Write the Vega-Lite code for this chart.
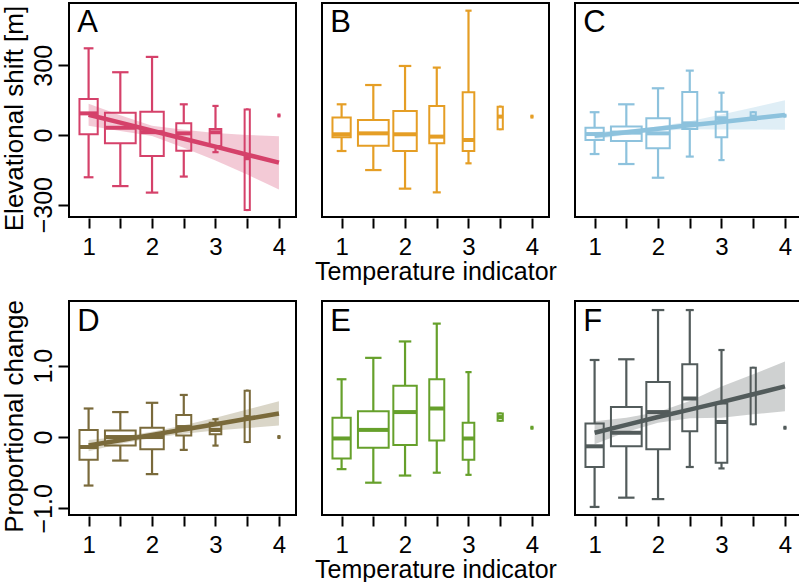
{
"$schema": "https://vega.github.io/schema/vega-lite/v6.json",
"background": "white",
"padding": {"left": 0, "top": 2, "right": 0, "bottom": 0},
"config": {
  "font": "Liberation Sans",
  "view": {"stroke": "black", "strokeWidth": 2},
  "axis": {"grid": false, "domain": false, "tickColor": "black", "tickWidth": 2, "tickSize": 10, "labelFontSize": 25, "labelColor": "black", "titleFontSize": 26, "titleFontWeight": "normal", "titleColor": "black", "labelFont": "Liberation Sans", "titleFont": "Liberation Sans"},
  "axisX": {"labelFontSize": 24},
  "header": {"titleFontSize": 25, "titleFontWeight": "normal", "titleFont": "Liberation Sans", "titleColor": "black"}
},
"datasets": {"d": [
{"p":"A","k":"box","x":1,"n":37,"lo":-182,"q1":3,"med":93,"q3":155,"hi":373},
{"p":"A","k":"box","x":1.5,"n":105,"lo":-220,"q1":-36,"med":31,"q3":96,"hi":270},
{"p":"A","k":"box","x":2,"n":61,"lo":-248,"q1":-90,"med":12,"q3":100,"hi":336},
{"p":"A","k":"box","x":2.5,"n":25,"lo":-179,"q1":-68,"med":7,"q3":50,"hi":132},
{"p":"A","k":"box","x":3,"n":15,"lo":-74,"q1":-47,"med":12,"q3":26,"hi":125},
{"p":"A","k":"box","x":3.5,"n":3,"lo":-323,"q1":-323,"med":-100,"q3":110,"hi":110},
{"p":"A","k":"box","x":4,"n":1,"lo":84,"q1":84,"med":84,"q3":84,"hi":84},
{"p":"B","k":"box","x":1,"n":37,"lo":-69,"q1":-10,"med":3,"q3":75,"hi":132},
{"p":"B","k":"box","x":1.5,"n":105,"lo":-151,"q1":-46,"med":7,"q3":65,"hi":215},
{"p":"B","k":"box","x":2,"n":61,"lo":-231,"q1":-69,"med":3,"q3":103,"hi":297},
{"p":"B","k":"box","x":2.5,"n":25,"lo":-247,"q1":-36,"med":-7,"q3":125,"hi":290},
{"p":"B","k":"box","x":3,"n":15,"lo":-122,"q1":-69,"med":-22,"q3":184,"hi":535},
{"p":"B","k":"box","x":3.5,"n":3,"lo":25,"q1":25,"med":79,"q3":122,"hi":122},
{"p":"B","k":"box","x":4,"n":1,"lo":79,"q1":79,"med":79,"q3":79,"hi":79},
{"p":"C","k":"box","x":1,"n":37,"lo":-82,"q1":-22,"med":4,"q3":31,"hi":98},
{"p":"C","k":"box","x":1.5,"n":105,"lo":-125,"q1":-26,"med":10,"q3":36,"hi":132},
{"p":"C","k":"box","x":2,"n":61,"lo":-184,"q1":-57,"med":7,"q3":72,"hi":201},
{"p":"C","k":"box","x":2.5,"n":25,"lo":-93,"q1":26,"med":50,"q3":185,"hi":277},
{"p":"C","k":"box","x":3,"n":15,"lo":-108,"q1":-10,"med":72,"q3":100,"hi":182},
{"p":"C","k":"box","x":3.5,"n":3,"lo":65,"q1":65,"med":79,"q3":98,"hi":98},
{"p":"C","k":"box","x":4,"n":1,"lo":83,"q1":83,"med":83,"q3":83,"hi":83},
{"p":"D","k":"box","x":1,"n":37,"lo":-0.68,"q1":-0.32,"med":-0.14,"q3":0.10,"hi":0.40},
{"p":"D","k":"box","x":1.5,"n":105,"lo":-0.33,"q1":-0.12,"med":0.0,"q3":0.09,"hi":0.35},
{"p":"D","k":"box","x":2,"n":61,"lo":-0.52,"q1":-0.17,"med":0.0,"q3":0.13,"hi":0.48},
{"p":"D","k":"box","x":2.5,"n":25,"lo":-0.18,"q1":0.02,"med":0.14,"q3":0.31,"hi":0.59},
{"p":"D","k":"box","x":3,"n":15,"lo":-0.12,"q1":0.04,"med":0.10,"q3":0.20,"hi":0.25},
{"p":"D","k":"box","x":3.5,"n":3,"lo":-0.07,"q1":-0.07,"med":0.28,"q3":0.65,"hi":0.65},
{"p":"D","k":"box","x":4,"n":1,"lo":0.0,"q1":0.0,"med":0.0,"q3":0.0,"hi":0.0},
{"p":"E","k":"box","x":1,"n":37,"lo":-0.45,"q1":-0.30,"med":-0.02,"q3":0.27,"hi":0.81},
{"p":"E","k":"box","x":1.5,"n":105,"lo":-0.64,"q1":-0.15,"med":0.10,"q3":0.36,"hi":1.11},
{"p":"E","k":"box","x":2,"n":61,"lo":-0.54,"q1":-0.11,"med":0.35,"q3":0.72,"hi":1.34},
{"p":"E","k":"box","x":2.5,"n":25,"lo":-0.50,"q1":-0.05,"med":0.40,"q3":0.81,"hi":1.59},
{"p":"E","k":"box","x":3,"n":15,"lo":-0.53,"q1":-0.32,"med":-0.02,"q3":0.20,"hi":0.91},
{"p":"E","k":"box","x":3.5,"n":3,"lo":0.23,"q1":0.23,"med":0.28,"q3":0.33,"hi":0.33},
{"p":"E","k":"box","x":4,"n":1,"lo":0.13,"q1":0.13,"med":0.13,"q3":0.13,"hi":0.13},
{"p":"F","k":"box","x":1,"n":37,"lo":-0.98,"q1":-0.42,"med":-0.13,"q3":0.19,"hi":1.08},
{"p":"F","k":"box","x":1.5,"n":105,"lo":-0.85,"q1":-0.13,"med":0.06,"q3":0.42,"hi":1.09},
{"p":"F","k":"box","x":2,"n":61,"lo":-0.87,"q1":-0.17,"med":0.35,"q3":0.77,"hi":1.78},
{"p":"F","k":"box","x":2.5,"n":25,"lo":-0.42,"q1":0.08,"med":0.54,"q3":1.02,"hi":1.78},
{"p":"F","k":"box","x":3,"n":15,"lo":-0.44,"q1":-0.36,"med":0.21,"q3":0.47,"hi":1.22},
{"p":"F","k":"box","x":3.5,"n":3,"lo":0.18,"q1":0.18,"med":0.60,"q3":0.97,"hi":0.97},
{"p":"F","k":"box","x":4,"n":1,"lo":0.13,"q1":0.13,"med":0.13,"q3":0.13,"hi":0.13},
{"p":"A","k":"fit","x":1,"fit":87,"lwr":40,"upr":134},
{"p":"A","k":"fit","x":1.5,"fit":53,"lwr":17,"upr":85},
{"p":"A","k":"fit","x":2,"fit":18,"lwr":-4,"upr":40},
{"p":"A","k":"fit","x":2.5,"fit":-16,"lwr":-55,"upr":22},
{"p":"A","k":"fit","x":3,"fit":-50,"lwr":-110,"upr":8},
{"p":"A","k":"fit","x":3.5,"fit":-85,"lwr":-170,"upr":0},
{"p":"A","k":"fit","x":4,"fit":-119,"lwr":-235,"upr":-5},
{"p":"C","k":"fit","x":1,"fit":-3,"lwr":-19,"upr":13},
{"p":"C","k":"fit","x":1.5,"fit":12,"lwr":1,"upr":23},
{"p":"C","k":"fit","x":2,"fit":27,"lwr":17,"upr":37},
{"p":"C","k":"fit","x":2.5,"fit":42,"lwr":25,"upr":59},
{"p":"C","k":"fit","x":3,"fit":56,"lwr":24,"upr":88},
{"p":"C","k":"fit","x":3.5,"fit":71,"lwr":24,"upr":118},
{"p":"C","k":"fit","x":4,"fit":86,"lwr":23,"upr":149},
{"p":"D","k":"fit","x":1,"fit":-0.12,"lwr":-0.20,"upr":-0.04},
{"p":"D","k":"fit","x":1.5,"fit":-0.045,"lwr":-0.095,"upr":0.005},
{"p":"D","k":"fit","x":2,"fit":0.03,"lwr":-0.015,"upr":0.075},
{"p":"D","k":"fit","x":2.5,"fit":0.105,"lwr":0.045,"upr":0.165},
{"p":"D","k":"fit","x":3,"fit":0.18,"lwr":0.09,"upr":0.27},
{"p":"D","k":"fit","x":3.5,"fit":0.255,"lwr":0.125,"upr":0.385},
{"p":"D","k":"fit","x":4,"fit":0.33,"lwr":0.16,"upr":0.50},
{"p":"F","k":"fit","x":1,"fit":0.06,"lwr":-0.10,"upr":0.22},
{"p":"F","k":"fit","x":1.5,"fit":0.17,"lwr":0.07,"upr":0.27},
{"p":"F","k":"fit","x":2,"fit":0.28,"lwr":0.20,"upr":0.35},
{"p":"F","k":"fit","x":2.5,"fit":0.385,"lwr":0.265,"upr":0.505},
{"p":"F","k":"fit","x":3,"fit":0.49,"lwr":0.27,"upr":0.71},
{"p":"F","k":"fit","x":3.5,"fit":0.60,"lwr":0.32,"upr":0.88},
{"p":"F","k":"fit","x":4,"fit":0.71,"lwr":0.36,"upr":1.06}
]},
"data": {"name": "d"},
"spacing": 14,
"resolve": {"scale": {"size": "independent"}},
"vconcat": [
{
 "transform": [{"filter": "datum.p=='A'||datum.p=='B'||datum.p=='C'"}],
 "facet": {"column": {"field": "p", "type": "nominal", "header": {"title": "Temperature indicator", "titleOrient": "bottom", "labels": false, "titlePadding": -9}}},
 "spacing": {"column": 24},
 "spec": {
  "width": 227, "height": 214,
  "encoding": {"x": {"field":"x","type":"quantitative","scale":{"domain":[0.77,4.19],"nice":false,"zero":false},"axis":{"values":[1,1.5,2,2.5,3,3.5,4],"labelExpr":"datum.value % 1 === 0 ? format(datum.value, 'd') : ''","labelPadding":7,"labelFlush":false,"labelOverlap":false,"title":null}}},
  "layer": [
   {"transform":[{"filter":"datum.k=='box'"}],"mark":{"type":"rule","strokeWidth":2.2},
    "encoding":{"y":{"field":"lo","type":"quantitative","scale":{"domain":[-353,568],"nice":false,"zero":false},"axis":{"values":[-300,0,300],"labelAngle":270,"labelAlign":"center","labelBaseline":"bottom","labelPadding":2,"title":"Elevational shift [m]","titlePadding":4,"titleY":115}},"y2":{"field":"hi"},
     "color":{"field":"p","type":"nominal","scale":{"domain":["A","B","C","D","E","F"],"range":["#D5416A","#E59E25","#8DC2DD","#7A6A3B","#66A02B","#525B5B"]},"legend":null}}},
   {"transform":[{"filter":"datum.k=='box'"}],"mark":{"type":"tick","orient":"horizontal","thickness":2.2,"opacity":1},
    "encoding":{"y":{"field":"lo","type":"quantitative","scale":{"domain":[-353,568],"nice":false,"zero":false},"axis":{"values":[-300,0,300],"labelAngle":270,"labelAlign":"center","labelBaseline":"bottom","labelPadding":2,"title":"Elevational shift [m]","titlePadding":4,"titleY":115}},
     "size":{"field":"n","type":"quantitative","scale":{"type":"sqrt","domain":[0,100],"range":[0,16]},"legend":null},
     "color":{"field":"p","type":"nominal","scale":{"domain":["A","B","C","D","E","F"],"range":["#D5416A","#E59E25","#8DC2DD","#7A6A3B","#66A02B","#525B5B"]},"legend":null}}},
   {"transform":[{"filter":"datum.k=='box'"}],"mark":{"type":"tick","orient":"horizontal","thickness":2.2,"opacity":1},
    "encoding":{"y":{"field":"hi","type":"quantitative","scale":{"domain":[-353,568],"nice":false,"zero":false},"axis":{"values":[-300,0,300],"labelAngle":270,"labelAlign":"center","labelBaseline":"bottom","labelPadding":2,"title":"Elevational shift [m]","titlePadding":4,"titleY":115}},
     "size":{"field":"n","type":"quantitative","scale":{"type":"sqrt","domain":[0,100],"range":[0,16]},"legend":null},
     "color":{"field":"p","type":"nominal","scale":{"domain":["A","B","C","D","E","F"],"range":["#D5416A","#E59E25","#8DC2DD","#7A6A3B","#66A02B","#525B5B"]},"legend":null}}},
   {"transform":[{"filter":"datum.k=='box'"}],"mark":{"type":"bar","orient":"vertical","fill":"white","strokeWidth":2},
    "encoding":{"y":{"field":"q1","type":"quantitative","scale":{"domain":[-353,568],"nice":false,"zero":false},"axis":{"values":[-300,0,300],"labelAngle":270,"labelAlign":"center","labelBaseline":"bottom","labelPadding":2,"title":"Elevational shift [m]","titlePadding":4,"titleY":115}},"y2":{"field":"q3"},
     "size":{"field":"n","type":"quantitative","scale":{"type":"sqrt","domain":[0,100],"range":[0,30]},"legend":null},
     "stroke":{"field":"p","type":"nominal","scale":{"domain":["A","B","C","D","E","F"],"range":["#D5416A","#E59E25","#8DC2DD","#7A6A3B","#66A02B","#525B5B"]},"legend":null}}},
   {"transform":[{"filter":"datum.k=='box'"}],"mark":{"type":"tick","orient":"horizontal","thickness":4,"opacity":1},
    "encoding":{"y":{"field":"med","type":"quantitative","scale":{"domain":[-353,568],"nice":false,"zero":false},"axis":{"values":[-300,0,300],"labelAngle":270,"labelAlign":"center","labelBaseline":"bottom","labelPadding":2,"title":"Elevational shift [m]","titlePadding":4,"titleY":115}},
     "size":{"field":"n","type":"quantitative","scale":{"type":"sqrt","domain":[0,100],"range":[0,30]},"legend":null},
     "color":{"field":"p","type":"nominal","scale":{"domain":["A","B","C","D","E","F"],"range":["#D5416A","#E59E25","#8DC2DD","#7A6A3B","#66A02B","#525B5B"]},"legend":null}}},
   {"transform":[{"filter":"datum.k=='fit'"}],"mark":{"type":"area","opacity":0.28},
    "encoding":{"y":{"field":"lwr","type":"quantitative","scale":{"domain":[-353,568],"nice":false,"zero":false},"axis":{"values":[-300,0,300],"labelAngle":270,"labelAlign":"center","labelBaseline":"bottom","labelPadding":2,"title":"Elevational shift [m]","titlePadding":4,"titleY":115}},"y2":{"field":"upr"},
     "color":{"field":"p","type":"nominal","scale":{"domain":["A","B","C","D","E","F"],"range":["#D5416A","#E59E25","#8DC2DD","#7A6A3B","#66A02B","#525B5B"]},"legend":null}}},
   {"transform":[{"filter":"datum.k=='fit'"}],"mark":{"type":"line","strokeWidth":4.5},
    "encoding":{"y":{"field":"fit","type":"quantitative","scale":{"domain":[-353,568],"nice":false,"zero":false},"axis":{"values":[-300,0,300],"labelAngle":270,"labelAlign":"center","labelBaseline":"bottom","labelPadding":2,"title":"Elevational shift [m]","titlePadding":4,"titleY":115}},
     "color":{"field":"p","type":"nominal","scale":{"domain":["A","B","C","D","E","F"],"range":["#D5416A","#E59E25","#8DC2DD","#7A6A3B","#66A02B","#525B5B"]},"legend":null}}},
   {"transform":[{"filter":"datum.k=='box' && datum.x==1"}],"mark":{"type":"text","align":"left","baseline":"alphabetic","fontSize":31,"color":"black"},
    "encoding":{"x":{"datum":0.82,"type":"quantitative"},
     "y":{"datum":445,"type":"quantitative"},
     "text":{"field":"p"}}}
  ],
  "resolve": {"scale": {"size": "independent"}}
 }
},
{
 "transform": [{"filter": "datum.p=='D'||datum.p=='E'||datum.p=='F'"}],
 "facet": {"column": {"field": "p", "type": "nominal", "header": {"title": "Temperature indicator", "titleOrient": "bottom", "labels": false, "titlePadding": -9}}},
 "spacing": {"column": 24},
 "spec": {
  "width": 227, "height": 214,
  "encoding": {"x": {"field":"x","type":"quantitative","scale":{"domain":[0.77,4.19],"nice":false,"zero":false},"axis":{"values":[1,1.5,2,2.5,3,3.5,4],"labelExpr":"datum.value % 1 === 0 ? format(datum.value, 'd') : ''","labelPadding":7,"labelFlush":false,"labelOverlap":false,"title":null}}},
  "layer": [
   {"transform":[{"filter":"datum.k=='box'"}],"mark":{"type":"rule","strokeWidth":2.2},
    "encoding":{"y":{"field":"lo","type":"quantitative","scale":{"domain":[-1.093,1.907],"nice":false,"zero":false},"axis":{"values":[-1,0,1],"labelExpr":"datum.value === 0 ? '0' : format(datum.value, '.1f')","labelAngle":270,"labelAlign":"center","labelBaseline":"bottom","labelPadding":2,"title":"Proportional change","titlePadding":4,"titleY":115}},"y2":{"field":"hi"},
     "color":{"field":"p","type":"nominal","scale":{"domain":["A","B","C","D","E","F"],"range":["#D5416A","#E59E25","#8DC2DD","#7A6A3B","#66A02B","#525B5B"]},"legend":null}}},
   {"transform":[{"filter":"datum.k=='box'"}],"mark":{"type":"tick","orient":"horizontal","thickness":2.2,"opacity":1},
    "encoding":{"y":{"field":"lo","type":"quantitative","scale":{"domain":[-1.093,1.907],"nice":false,"zero":false},"axis":{"values":[-1,0,1],"labelExpr":"datum.value === 0 ? '0' : format(datum.value, '.1f')","labelAngle":270,"labelAlign":"center","labelBaseline":"bottom","labelPadding":2,"title":"Proportional change","titlePadding":4,"titleY":115}},
     "size":{"field":"n","type":"quantitative","scale":{"type":"sqrt","domain":[0,100],"range":[0,16]},"legend":null},
     "color":{"field":"p","type":"nominal","scale":{"domain":["A","B","C","D","E","F"],"range":["#D5416A","#E59E25","#8DC2DD","#7A6A3B","#66A02B","#525B5B"]},"legend":null}}},
   {"transform":[{"filter":"datum.k=='box'"}],"mark":{"type":"tick","orient":"horizontal","thickness":2.2,"opacity":1},
    "encoding":{"y":{"field":"hi","type":"quantitative","scale":{"domain":[-1.093,1.907],"nice":false,"zero":false},"axis":{"values":[-1,0,1],"labelExpr":"datum.value === 0 ? '0' : format(datum.value, '.1f')","labelAngle":270,"labelAlign":"center","labelBaseline":"bottom","labelPadding":2,"title":"Proportional change","titlePadding":4,"titleY":115}},
     "size":{"field":"n","type":"quantitative","scale":{"type":"sqrt","domain":[0,100],"range":[0,16]},"legend":null},
     "color":{"field":"p","type":"nominal","scale":{"domain":["A","B","C","D","E","F"],"range":["#D5416A","#E59E25","#8DC2DD","#7A6A3B","#66A02B","#525B5B"]},"legend":null}}},
   {"transform":[{"filter":"datum.k=='box'"}],"mark":{"type":"bar","orient":"vertical","fill":"white","strokeWidth":2},
    "encoding":{"y":{"field":"q1","type":"quantitative","scale":{"domain":[-1.093,1.907],"nice":false,"zero":false},"axis":{"values":[-1,0,1],"labelExpr":"datum.value === 0 ? '0' : format(datum.value, '.1f')","labelAngle":270,"labelAlign":"center","labelBaseline":"bottom","labelPadding":2,"title":"Proportional change","titlePadding":4,"titleY":115}},"y2":{"field":"q3"},
     "size":{"field":"n","type":"quantitative","scale":{"type":"sqrt","domain":[0,100],"range":[0,30]},"legend":null},
     "stroke":{"field":"p","type":"nominal","scale":{"domain":["A","B","C","D","E","F"],"range":["#D5416A","#E59E25","#8DC2DD","#7A6A3B","#66A02B","#525B5B"]},"legend":null}}},
   {"transform":[{"filter":"datum.k=='box'"}],"mark":{"type":"tick","orient":"horizontal","thickness":4,"opacity":1},
    "encoding":{"y":{"field":"med","type":"quantitative","scale":{"domain":[-1.093,1.907],"nice":false,"zero":false},"axis":{"values":[-1,0,1],"labelExpr":"datum.value === 0 ? '0' : format(datum.value, '.1f')","labelAngle":270,"labelAlign":"center","labelBaseline":"bottom","labelPadding":2,"title":"Proportional change","titlePadding":4,"titleY":115}},
     "size":{"field":"n","type":"quantitative","scale":{"type":"sqrt","domain":[0,100],"range":[0,30]},"legend":null},
     "color":{"field":"p","type":"nominal","scale":{"domain":["A","B","C","D","E","F"],"range":["#D5416A","#E59E25","#8DC2DD","#7A6A3B","#66A02B","#525B5B"]},"legend":null}}},
   {"transform":[{"filter":"datum.k=='fit'"}],"mark":{"type":"area","opacity":0.28},
    "encoding":{"y":{"field":"lwr","type":"quantitative","scale":{"domain":[-1.093,1.907],"nice":false,"zero":false},"axis":{"values":[-1,0,1],"labelExpr":"datum.value === 0 ? '0' : format(datum.value, '.1f')","labelAngle":270,"labelAlign":"center","labelBaseline":"bottom","labelPadding":2,"title":"Proportional change","titlePadding":4,"titleY":115}},"y2":{"field":"upr"},
     "color":{"field":"p","type":"nominal","scale":{"domain":["A","B","C","D","E","F"],"range":["#D5416A","#E59E25","#8DC2DD","#7A6A3B","#66A02B","#525B5B"]},"legend":null}}},
   {"transform":[{"filter":"datum.k=='fit'"}],"mark":{"type":"line","strokeWidth":4.5},
    "encoding":{"y":{"field":"fit","type":"quantitative","scale":{"domain":[-1.093,1.907],"nice":false,"zero":false},"axis":{"values":[-1,0,1],"labelExpr":"datum.value === 0 ? '0' : format(datum.value, '.1f')","labelAngle":270,"labelAlign":"center","labelBaseline":"bottom","labelPadding":2,"title":"Proportional change","titlePadding":4,"titleY":115}},
     "color":{"field":"p","type":"nominal","scale":{"domain":["A","B","C","D","E","F"],"range":["#D5416A","#E59E25","#8DC2DD","#7A6A3B","#66A02B","#525B5B"]},"legend":null}}},
   {"transform":[{"filter":"datum.k=='box' && datum.x==1"}],"mark":{"type":"text","align":"left","baseline":"alphabetic","fontSize":31,"color":"black"},
    "encoding":{"x":{"datum":0.82,"type":"quantitative"},
     "y":{"datum":1.49,"type":"quantitative"},
     "text":{"field":"p"}}}
  ],
  "resolve": {"scale": {"size": "independent"}}
 }
}
]
}
